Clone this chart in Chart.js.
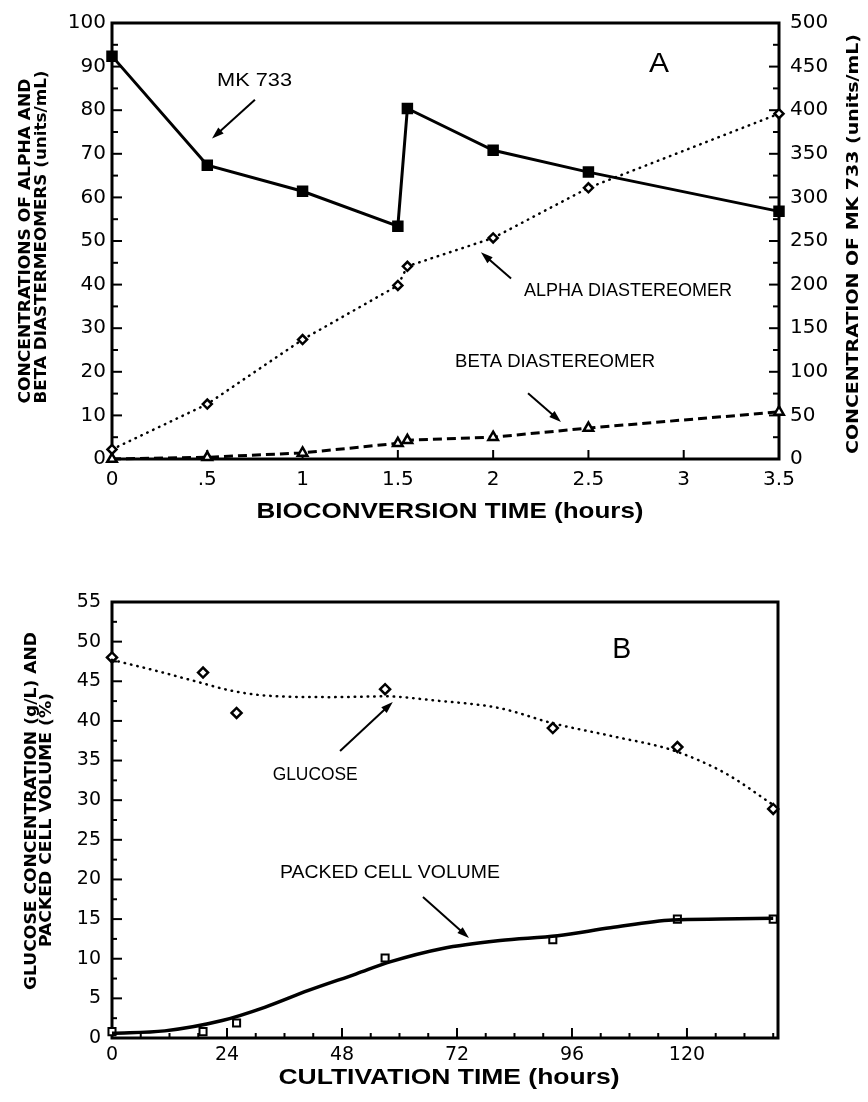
<!DOCTYPE html>
<html>
<head>
<meta charset="utf-8">
<script src="https://cdn.jsdelivr.net/npm/chart.js@4.4.1/dist/chart.umd.min.js"></script>
<style>
  body { margin: 0; background: #fff; }
  canvas { position: absolute; left: 0; }
  #chartA { top: 0; }
  #chartB { top: 560px; }
</style>
</head>
<body>
<canvas id="chartA" width="868" height="560"></canvas>
<canvas id="chartB" width="868" height="542"></canvas>
<script>
// Panel A: bioconversion
const bioTime = [0, 0.5, 1, 1.5, 1.55, 2, 2.5, 3.5];
const mk733 = [462, 337, 307, 267, 402, 354, 329, 284];
const alphaConc = [2.2, 12.6, 27.4, 39.8, 44.2, 50.7, 62.2, 79.2];
const betaConc = [0, 0.4, 1.4, 3.6, 4.3, 5.0, 7.1, 10.8];

// Panel B: cultivation
const cultTime = [0, 19, 26, 57, 92, 118, 138];
const glucose = [48, 46.1, 41, 44, 39.1, 36.7, 28.9];
const pcv = [0.8, 0.8, 1.9, 10.1, 12.4, 15, 15];
const glucoseCurveTime = [0, 10, 18, 25, 32, 46, 57, 67, 81, 92, 105, 117, 128, 138];
const glucoseCurve = [47.7, 46.2, 44.9, 43.8, 43.2, 43.0, 43.1, 42.6, 41.6, 39.7, 38.0, 36.3, 33.4, 29.4];
const pcvCurveTime = [0, 11, 23, 32, 41, 51, 58, 69, 81, 93, 104, 117, 127, 138];
const pcvCurve = [0.6, 0.9, 2.2, 3.9, 6.0, 8.1, 9.6, 11.3, 12.3, 12.9, 13.9, 14.9, 15.0, 15.1];

const toPoints = (xs, ys) => xs.map((x, i) => ({ x, y: ys[i] }));

// draws text squeezed/stretched to a given width
function fitText(ctx, text, x, y, width, font, angle) {
    ctx.save();
    ctx.font = font;
    ctx.fillStyle = '#000';
    ctx.translate(x, y);
    if (angle) ctx.rotate(angle);
    const w = ctx.measureText(text).width;
    ctx.scale(width / w, 1);
    ctx.textAlign = 'center';
    ctx.textBaseline = 'middle';
    ctx.fillText(text, 0, 0);
    ctx.restore();
}

function arrow(ctx, x1, y1, x2, y2) {
    const ang = Math.atan2(y2 - y1, x2 - x1);
    ctx.save();
    ctx.strokeStyle = '#000';
    ctx.fillStyle = '#000';
    ctx.lineWidth = 2;
    ctx.beginPath();
    ctx.moveTo(x1, y1);
    ctx.lineTo(x2 - 6 * Math.cos(ang), y2 - 6 * Math.sin(ang));
    ctx.stroke();
    ctx.translate(x2, y2);
    ctx.rotate(ang);
    ctx.beginPath();
    ctx.moveTo(0, 0);
    ctx.lineTo(-12, -4);
    ctx.lineTo(-12, 4);
    ctx.closePath();
    ctx.fill();
    ctx.restore();
}

// frame plus inward ticks
const frameTicks = {
    id: 'frameTicks',
    beforeDatasetsDraw(chart, args, opts) {
        const { ctx, chartArea: a } = chart;
        ctx.save();
        ctx.strokeStyle = '#000';
        ctx.lineWidth = 3;
        ctx.strokeRect(a.left, a.top, a.width, a.height);
        ctx.lineWidth = 2;
        opts.marks.forEach(m => {
            const s = chart.scales[m.axis];
            for (let v = s.min; v <= s.max + 1e-9; v += m.step) {
                const r = v / m.majorStep;
                const len = Math.abs(r - Math.round(r)) < 1e-6 ? m.major : m.minor;
                const p = s.getPixelForValue(v);
                ctx.beginPath();
                if (m.side === 'bottom') { ctx.moveTo(p, a.bottom); ctx.lineTo(p, a.bottom - len); }
                if (m.side === 'left') { ctx.moveTo(a.left, p); ctx.lineTo(a.left + len, p); }
                if (m.side === 'right') { ctx.moveTo(a.right, p); ctx.lineTo(a.right - len, p); }
                ctx.stroke();
            }
        });
        ctx.restore();
    },
    afterDraw(chart, args, opts) {
        const { ctx } = chart;
        const xs = chart.scales.x, ys = chart.scales.y;
        (opts.titles || []).forEach(t => fitText(ctx, t.text, t.px, t.py, t.width, t.font, t.angle));
        (opts.labels || []).forEach(t => fitText(ctx, t.text, xs.getPixelForValue(t.x), ys.getPixelForValue(t.y), t.width, t.font));
        (opts.arrows || []).forEach(r => arrow(ctx,
            xs.getPixelForValue(r.from[0]), ys.getPixelForValue(r.from[1]),
            xs.getPixelForValue(r.to[0]), ys.getPixelForValue(r.to[1])));
    }
};

const tickFontA = { family: 'DejaVu Sans', size: 20 };
const tickFontB = { family: 'DejaVu Sans', size: 19 };
const titleFont = 'bold 16px "DejaVu Sans"';
const plotterFont = 'bold 22px "Liberation Sans Narrow", "Liberation Sans"';
const noteFont = '19px "Liberation Sans Narrow", "Liberation Sans"';

new Chart(document.getElementById('chartA'), {
    type: 'scatter',
    data: {
        datasets: [
            {
                label: 'MK 733',
                yAxisID: 'yR',
                data: toPoints(bioTime, mk733),
                showLine: true,
                borderColor: '#000',
                borderWidth: 3,
                pointStyle: 'rect',
                pointRadius: 6,
                pointBackgroundColor: '#000',
                pointBorderColor: '#000',
                clip: false
            },
            {
                label: 'Alpha diastereomer',
                data: toPoints(bioTime, alphaConc),
                showLine: true,
                borderColor: '#000',
                borderWidth: 2.5,
                borderDash: [0.5, 6],
                borderCapStyle: 'round',
                pointStyle: 'rectRot',
                pointRadius: 4.5,
                pointBorderWidth: 2.5,
                pointBorderColor: '#000',
                pointBackgroundColor: '#fff',
                clip: false
            },
            {
                label: 'Beta diastereomer',
                data: toPoints(bioTime, betaConc),
                showLine: true,
                borderColor: '#000',
                borderWidth: 3,
                borderDash: [9, 5],
                pointStyle: 'triangle',
                pointRadius: 5.5,
                pointBorderWidth: 2.5,
                pointBorderColor: '#000',
                pointBackgroundColor: '#fff',
                clip: false
            }
        ]
    },
    options: {
        responsive: false,
        animation: false,
        layout: { padding: { top: 22, left: 0, right: 0, bottom: 0 } },
        plugins: {
            legend: { display: false },
            tooltip: { enabled: false },
            frameTicks: {
                marks: [
                    { axis: 'x', side: 'bottom', step: 0.5, majorStep: 0.5, major: 9, minor: 9 },
                    { axis: 'y', side: 'left', step: 5, majorStep: 10, major: 10, minor: 6 },
                    { axis: 'yR', side: 'right', step: 25, majorStep: 50, major: 10, minor: 6 }
                ],
                titles: [
                    { text: 'CONCENTRATIONS OF ALPHA AND', px: 26, py: 241, width: 325, font: titleFont, angle: -Math.PI / 2 },
                    { text: 'BETA DIASTERMEOMERS (units/mL)', px: 42, py: 237, width: 333, font: titleFont, angle: -Math.PI / 2 },
                    { text: 'CONCENTRATION OF MK 733 (units/mL)', px: 854, py: 244, width: 420, font: titleFont, angle: -Math.PI / 2 },
                    { text: 'BIOCONVERSION TIME (hours)', px: 450, py: 512, width: 387, font: plotterFont }
                ],
                labels: [
                    { text: 'MK 733', x: 0.748, y: 86.7, width: 75, font: noteFont },
                    { text: 'A', x: 2.87, y: 90.6, width: 20, font: '28px "Liberation Sans"' },
                    { text: 'ALPHA DIASTEREOMER', x: 2.708, y: 38.7, width: 208, font: noteFont },
                    { text: 'BETA DIASTEREOMER', x: 2.325, y: 22.2, width: 200, font: noteFont }
                ],
                arrows: [
                    { from: [0.75, 82.4], to: [0.525, 73.5] },
                    { from: [2.094, 41.4], to: [1.936, 47.4] },
                    { from: [2.183, 15.1], to: [2.356, 8.5] }
                ]
            }
        },
        scales: {
            x: {
                type: 'linear',
                min: 0, max: 3.5,
                grid: { display: false, drawTicks: false },
                border: { display: false },
                afterFit: s => { s.height = 101; },
                ticks: {
                    stepSize: 0.5, padding: 9, color: '#000', font: tickFontA,
                    maxRotation: 0, autoSkip: false,
                    callback: v => (v === 0.5 ? '.5' : String(v))
                }
            },
            y: {
                position: 'left',
                min: 0, max: 100,
                grid: { display: false, drawTicks: false },
                border: { display: false },
                afterFit: s => { s.width = 112; },
                ticks: { stepSize: 10, padding: 6, color: '#000', font: tickFontA }
            },
            yR: {
                position: 'right',
                min: 0, max: 500,
                grid: { display: false, drawTicks: false },
                border: { display: false },
                afterFit: s => { s.width = 89; },
                ticks: { stepSize: 50, padding: 11, color: '#000', font: tickFontA }
            }
        }
    },
    plugins: [frameTicks]
});

new Chart(document.getElementById('chartB'), {
    type: 'scatter',
    data: {
        datasets: [
            {
                label: 'Glucose fit',
                data: toPoints(glucoseCurveTime, glucoseCurve),
                showLine: true,
                borderColor: '#000',
                borderWidth: 2.5,
                borderDash: [0.5, 6],
                borderCapStyle: 'round',
                cubicInterpolationMode: 'monotone',
                pointRadius: 0,
                clip: false
            },
            {
                label: 'Glucose',
                data: toPoints(cultTime, glucose),
                showLine: false,
                pointStyle: 'rectRot',
                pointRadius: 5,
                pointBorderWidth: 2.5,
                pointBorderColor: '#000',
                pointBackgroundColor: '#fff',
                clip: false
            },
            {
                label: 'Packed cell volume fit',
                data: toPoints(pcvCurveTime, pcvCurve),
                showLine: true,
                borderColor: '#000',
                borderWidth: 3.5,
                cubicInterpolationMode: 'monotone',
                pointRadius: 0,
                clip: false
            },
            {
                label: 'Packed cell volume',
                data: toPoints(cultTime, pcv),
                showLine: false,
                pointStyle: 'rect',
                pointRadius: 5,
                pointBorderWidth: 2,
                pointBorderColor: '#000',
                pointBackgroundColor: '#fff',
                clip: false
            }
        ]
    },
    options: {
        responsive: false,
        animation: false,
        layout: { padding: { top: 42, left: 0, right: 90, bottom: 0 } },
        plugins: {
            legend: { display: false },
            tooltip: { enabled: false },
            frameTicks: {
                marks: [
                    { axis: 'x', side: 'bottom', step: 6, majorStep: 24, major: 10, minor: 5 },
                    { axis: 'y', side: 'left', step: 2.5, majorStep: 5, major: 10, minor: 5 }
                ],
                titles: [
                    { text: 'GLUCOSE CONCENTRATION (g/L) AND', px: 32, py: 251, width: 358, font: titleFont, angle: -Math.PI / 2 },
                    { text: 'PACKED CELL VOLUME (%)', px: 47, py: 260, width: 254, font: titleFont, angle: -Math.PI / 2 },
                    { text: 'CULTIVATION TIME (hours)', px: 449, py: 518, width: 341, font: plotterFont }
                ],
                labels: [
                    { text: 'B', x: 106.4, y: 49.0, width: 19, font: '30px "Liberation Sans"' },
                    { text: 'GLUCOSE', x: 42.4, y: 33.2, width: 85, font: noteFont },
                    { text: 'PACKED CELL VOLUME', x: 58, y: 20.9, width: 220, font: noteFont }
                ],
                arrows: [
                    { from: [47.6, 36.2], to: [58.6, 42.4] },
                    { from: [64.9, 17.8], to: [74.5, 12.6] }
                ]
            }
        },
        scales: {
            x: {
                type: 'linear',
                min: 0, max: 139,
                grid: { display: false, drawTicks: false },
                border: { display: false },
                afterFit: s => { s.height = 64; },
                ticks: {
                    stepSize: 24, includeBounds: false, padding: 6, color: '#000', font: tickFontB,
                    maxRotation: 0, autoSkip: false
                }
            },
            y: {
                position: 'left',
                min: 0, max: 55,
                grid: { display: false, drawTicks: false },
                border: { display: false },
                afterFit: s => { s.width = 112; },
                ticks: { stepSize: 5, padding: 11, color: '#000', font: tickFontB }
            }
        }
    },
    plugins: [frameTicks]
});
</script>
</body>
</html>
